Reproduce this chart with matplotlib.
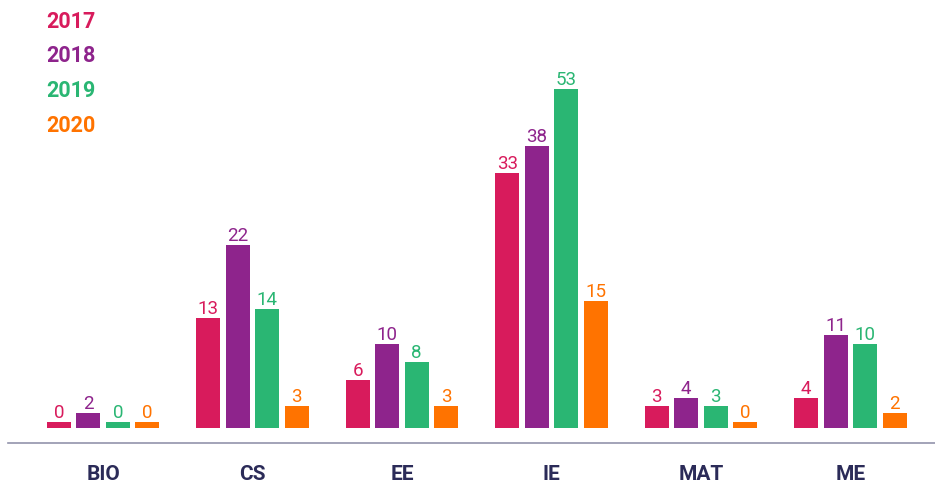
import numpy as np
import matplotlib
matplotlib.use("Agg")
import matplotlib.pyplot as plt
from matplotlib.transforms import blended_transform_factory

categories = ["BIO", "CS", "EE", "IE", "MAT", "ME"]
years = ["2017", "2018", "2019", "2020"]
v2017 = [0, 13, 6, 33, 3, 4]
v2018 = [2, 22, 10, 38, 4, 11]
v2019 = [0, 14, 8, 53, 3, 10]
v2020 = [0, 3, 3, 15, 0, 2]
colors = ["#D81B5C", "#8E248C", "#2AB673", "#FF7300"]

series = [v2017, v2018, v2019, v2020]

# compressive value scale used by the original graphic (zero bars keep a small stub)
KNEE = 3.0
Q = 0.00723
STUB = 0.539
VMAX = 68.0


def fwd(v):
    v = np.asarray(v, float)
    vp = np.clip(v, 0, VMAX)
    pos = STUB + vp * vp / (vp + KNEE) - Q * vp * vp
    neg = STUB + np.minimum(v, 0)
    return np.where(v >= 0, pos, neg)


_grid = np.linspace(-60, VMAX, 20000)
_tgrid = fwd(_grid)


def inv(t):
    return np.interp(np.asarray(t, float), _tgrid, _grid)


W, H = 935, 483
DPI = 100
FONT = "Roboto"
s = 11.14  # px per transformed unit
fig = plt.figure(figsize=(W / DPI, H / DPI), dpi=DPI)
ax_bot_px = 443
y_lo = -STUB - 15 / s
y_hi = 60.0
ax_h_px = s * (float(fwd(y_hi)) - float(fwd(y_lo)))
ax = fig.add_axes([8 / W, (H - ax_bot_px) / H, (W - 8) / W, ax_h_px / H])
ax.set_yscale("function", functions=(fwd, inv))
ax.set_ylim(y_lo, y_hi)
base = -STUB

pitch = 29.5 / 149.5
width = 24 / 149.5
x = np.arange(len(categories))
left0 = (103 - 8) / 149.5
ax.set_xlim(-left0, -left0 + (W - 8) / 149.5)

for j, (vals, c) in enumerate(zip(series, colors)):
    xs = x + (j - 1.5) * pitch
    vals = np.asarray(vals, float)
    ax.bar(xs, vals - base, bottom=base, width=width, color=c, linewidth=0)
    for xi, v in zip(xs, vals):
        ax.annotate(f"{int(v)}", (xi, v), xytext=(0, 2.9), textcoords="offset points",
                    ha="center", va="baseline", color=c, fontsize=13.5, family=FONT,
                    annotation_clip=False)

for sp in ["top", "right", "left"]:
    ax.spines[sp].set_visible(False)
ax.spines["bottom"].set_color("#9294AC")
ax.spines["bottom"].set_linewidth(1.2)
ax.set_xticks([])
ax.set_yticks([])
ax.yaxis.set_minor_locator(matplotlib.ticker.NullLocator())

trans = blended_transform_factory(ax.transData, fig.transFigure)
for xi, cat in zip(x, categories):
    ax.text(xi, (H - 479.5) / H, cat, transform=trans, ha="center", va="baseline",
            fontsize=15, fontweight="bold", color="#2B2B58", family=FONT)

baselines = [27.7, 62.4, 97.0, 131.7]
for yr, c, b in zip(years, colors, baselines):
    fig.text(46 / W, (H - b) / H, yr, color=c, fontsize=15.5, fontweight="bold",
             ha="left", va="baseline", family=FONT)

fig.savefig("out.png", dpi=DPI)
